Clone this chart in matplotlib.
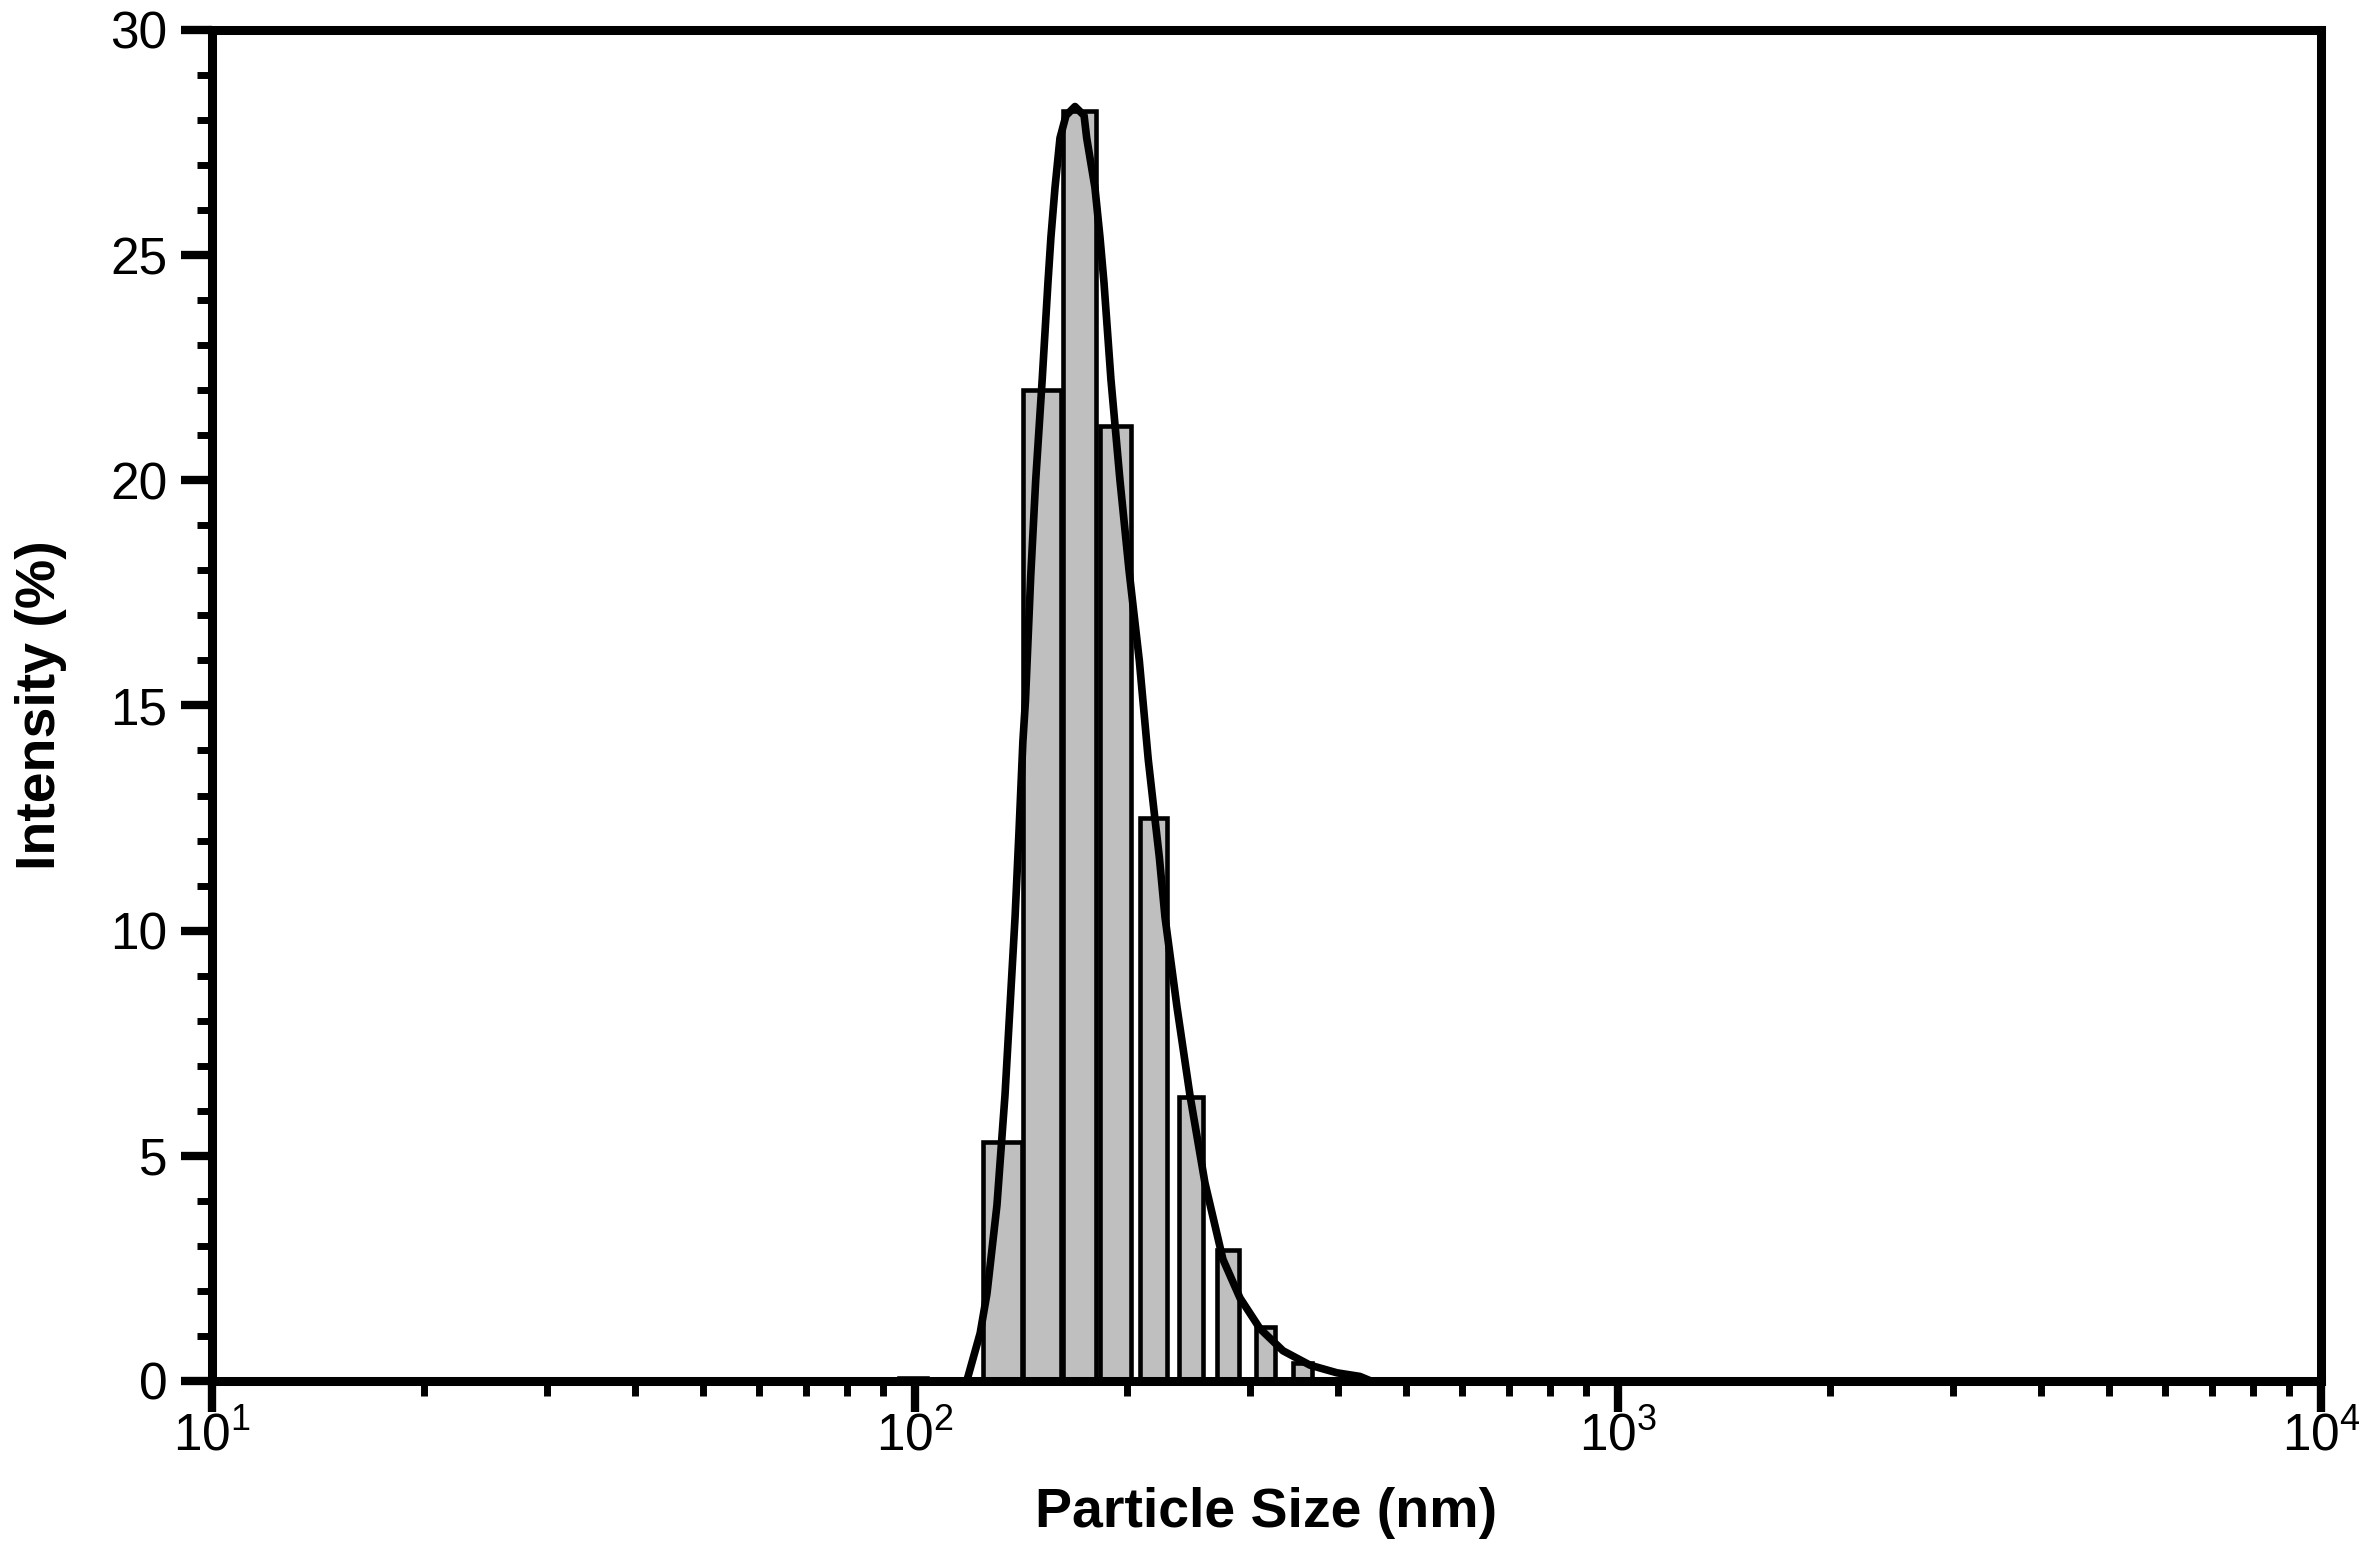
import matplotlib
matplotlib.use('Agg')
import matplotlib.pyplot as plt
from matplotlib.ticker import FixedLocator, LogLocator, MultipleLocator, NullFormatter

plt.rcParams['font.family'] = ['Liberation Sans', 'DejaVu Sans']
plt.rcParams['mathtext.fontset'] = 'custom'
plt.rcParams['mathtext.rm'] = 'Liberation Sans'

# histogram bins (nm) and intensity (%)
bin_left = [95.0, 124.9, 142.4, 162.4, 183.3, 208.9, 237.4, 268.9, 305.5, 345.0]
bin_right = [104.0, 141.9, 161.3, 180.9, 203.0, 228.3, 256.8, 289.0, 325.1, 367.0]
bin_intensity = [0.06, 5.3, 22.0, 28.2, 21.2, 12.5, 6.3, 2.9, 1.2, 0.4]

# fitted distribution curve
curve_size = [118.5, 123.8, 126.6, 130.8, 134.3, 136.5, 138.8, 140.6, 142.4, 143.6,
              146.1, 148.5, 151.7, 154.6, 156.1, 158.2, 160.8, 164.0, 168.9, 174.0,
              175.5, 180.3, 183.3, 185.7, 190.0, 195.7, 201.6, 208.5, 214.7, 219.5,
              222.6, 226.8, 235.9, 246.1, 258.5, 274.2, 290.0, 309.6, 333.8, 364.7,
              398.4, 429.5, 445.0]
curve_intensity = [0.0, 1.06, 1.94, 3.9, 6.35, 8.3, 10.3, 12.2, 14.2, 15.1,
                   17.87, 20.0, 22.24, 24.4, 25.4, 26.5, 27.6, 28.1, 28.3, 28.1,
                   27.6, 26.5, 25.4, 24.4, 22.24, 20.0, 18.0, 16.0, 13.8, 12.47,
                   11.64, 10.3, 8.3, 6.35, 4.4, 2.7, 1.84, 1.16, 0.67, 0.35,
                   0.18, 0.10, 0.0]

x_ticks = [10, 100, 1000, 10000]
x_ticklabels = [r'$\mathregular{10^{1}}$', r'$\mathregular{10^{2}}$',
                r'$\mathregular{10^{3}}$', r'$\mathregular{10^{4}}$']

fig = plt.figure(figsize=(23.71, 15.53), dpi=100)
ax = fig.add_axes([0.0894, 0.1108, 0.8895, 0.8699])

widths = [r - l for l, r in zip(bin_left, bin_right)]
ax.bar(bin_left, bin_intensity, width=widths, align='edge',
       color='#bfbfbf', edgecolor='black', linewidth=3.3, zorder=2)
ax.plot(curve_size, curve_intensity, color='black', linewidth=5.5,
        solid_joinstyle='round', solid_capstyle='round', zorder=3)

ax.set_xscale('log')
ax.set_xlim(10, 10000)
ax.set_ylim(0, 30)

ax.xaxis.set_major_locator(FixedLocator(x_ticks))
ax.set_xticklabels(x_ticklabels)
ax.xaxis.set_minor_locator(LogLocator(base=10, subs=range(2, 10)))
ax.xaxis.set_minor_formatter(NullFormatter())
ax.yaxis.set_major_locator(MultipleLocator(5))
ax.yaxis.set_minor_locator(MultipleLocator(1))

for s in ax.spines.values():
    s.set_linewidth(6.5)

ax.tick_params(which='major', direction='out', length=22, width=6,
               labelsize=37, top=False, right=False)
ax.tick_params(axis='y', which='major', pad=10)
ax.tick_params(axis='x', which='major', pad=0)
ax.tick_params(which='minor', direction='out', length=11, width=5,
               top=False, right=False)

ax.set_xlabel('Particle Size (nm)', fontsize=40, fontweight='bold')
ax.set_ylabel('Intensity (%)', fontsize=40, fontweight='bold')
ax.xaxis.set_label_coords(0.5, -0.0785)
ax.yaxis.set_label_coords(-0.0688, 0.5)

fig.savefig('out.png', dpi=100)
